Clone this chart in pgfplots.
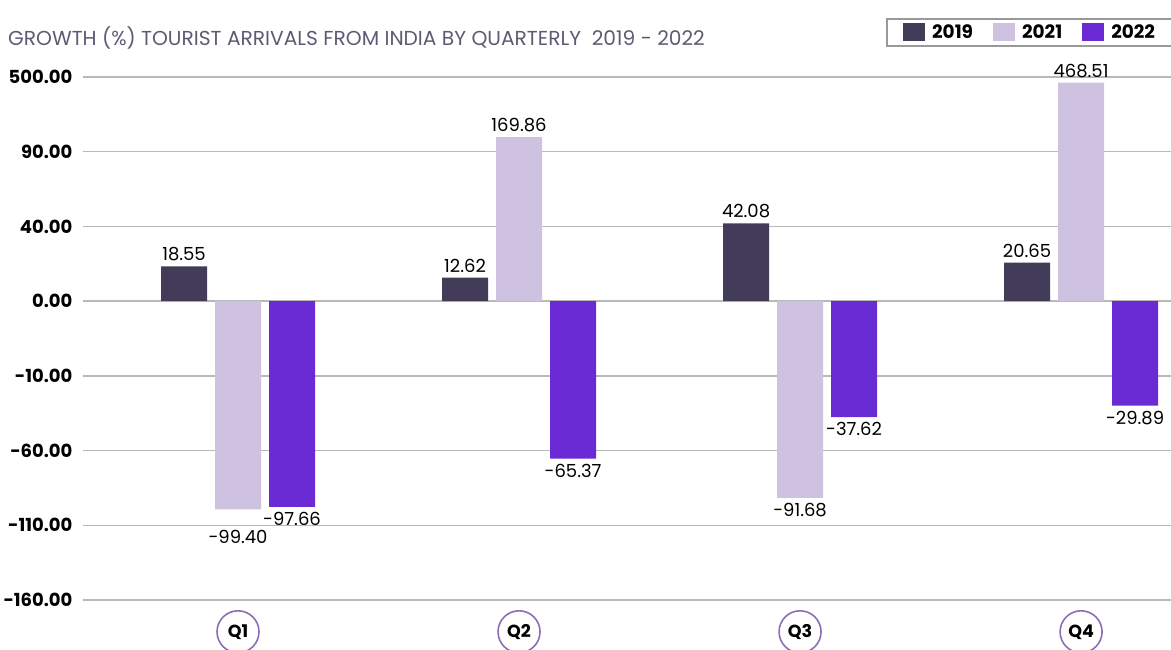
\documentclass[border=0pt]{standalone}
\usepackage{fontspec}
\setmainfont{Poppins}
\usepackage{pgfplots}
\pgfplotsset{compat=1.18}
\definecolor{c19}{HTML}{433C58}
\definecolor{c21}{HTML}{CFC2E1}
\definecolor{c22}{HTML}{6A2AD4}
\definecolor{qcirc}{HTML}{8B6FB5}
\definecolor{ttl}{HTML}{5C5B73}
\definecolor{gridc}{HTML}{B8B8B8}
\begin{document}
\begin{tikzpicture}
\path[use as bounding box] (0,0) rectangle (1171pt,650pt);
\node[anchor=west, text=ttl, font=\fontsize{20.2}{22}\selectfont, inner sep=0pt] at (8pt,612pt) {GROWTH (\%) TOURIST ARRIVALS FROM INDIA BY QUARTERLY\ \ 2019 - 2022};
\begin{axis}[
  at={(83pt,50pt)}, anchor=south west,
  scale only axis, width=1088pt, height=523pt,
  y coord trafo/.code={\pgfmathparse{(#1>=90)?(2+(#1-90)/410):((#1>=40)?(1+(#1-40)/50):((#1>=0)?(#1/40):((#1>=-10)?(#1/10):(-1+(#1+10)/50))))}},
  ymin=-160, ymax=500,
  ytick={-160,-110,-60,-10,0,40,90,500},
  yticklabels={-160.00,-110.00,-60.00,-10.00,0.00,40.00,90.00,500.00},
  xmin=-0.5516, xmax=3.32, enlarge x limits=false,
  xtick={0,1,2,3}, xticklabels={Q1,Q2,Q3,Q4},
  axis line style={draw=none},
  major tick length=0pt,
  ymajorgrids, grid style={gridc, line width=1.3pt},
  yticklabel style={font=\fontsize{18}{20}\selectfont\bfseries, xshift=-7pt},
  xticklabel style={font=\fontsize{17.5}{20}\selectfont\bfseries, circle, draw=qcirc, line width=1.6pt, minimum size=42pt, inner sep=0pt, yshift=-10pt},
  ybar=8pt, bar width=46pt,
  point meta=rawy,
  nodes near coords,
  nodes near coords style={font=\fontsize{18}{20}\selectfont, text=black, inner sep=5pt,
    /pgf/number format/fixed, /pgf/number format/fixed zerofill, /pgf/number format/precision=2,
    /pgf/number format/assume math mode=true},
  legend columns=3,
  legend style={at={(rel axis cs:1,1)}, anchor=south east, xshift=3pt, yshift=30pt,
    draw=gray!80, line width=2pt, font=\fontsize{18.5}{20}\selectfont\bfseries,
    inner xsep=16pt, inner ysep=4pt,
    /tikz/every odd column/.append style={column sep=5pt},
    /tikz/every even column/.append style={column sep=18pt}},
  legend image code/.code={\fill[#1] (0pt,-9pt) rectangle (22pt,9pt);},
]
\addplot[fill=c19, draw=none] coordinates {(0,18.55) (1,12.62) (2,42.08) (3,20.65)};
\addplot[fill=c21, draw=none,
  visualization depends on={value \coordindex \as \idx},
  every node near coord/.append style={yshift={-16pt*(\idx==0)}}] coordinates {(0,-99.40) (1,169.86) (2,-91.68) (3,468.51)};
\addplot[fill=c22, draw=none] coordinates {(0,-97.66) (1,-65.37) (2,-37.62) (3,-29.89)};
\legend{2019,2021,2022}
\end{axis}
\end{tikzpicture}
\end{document}
